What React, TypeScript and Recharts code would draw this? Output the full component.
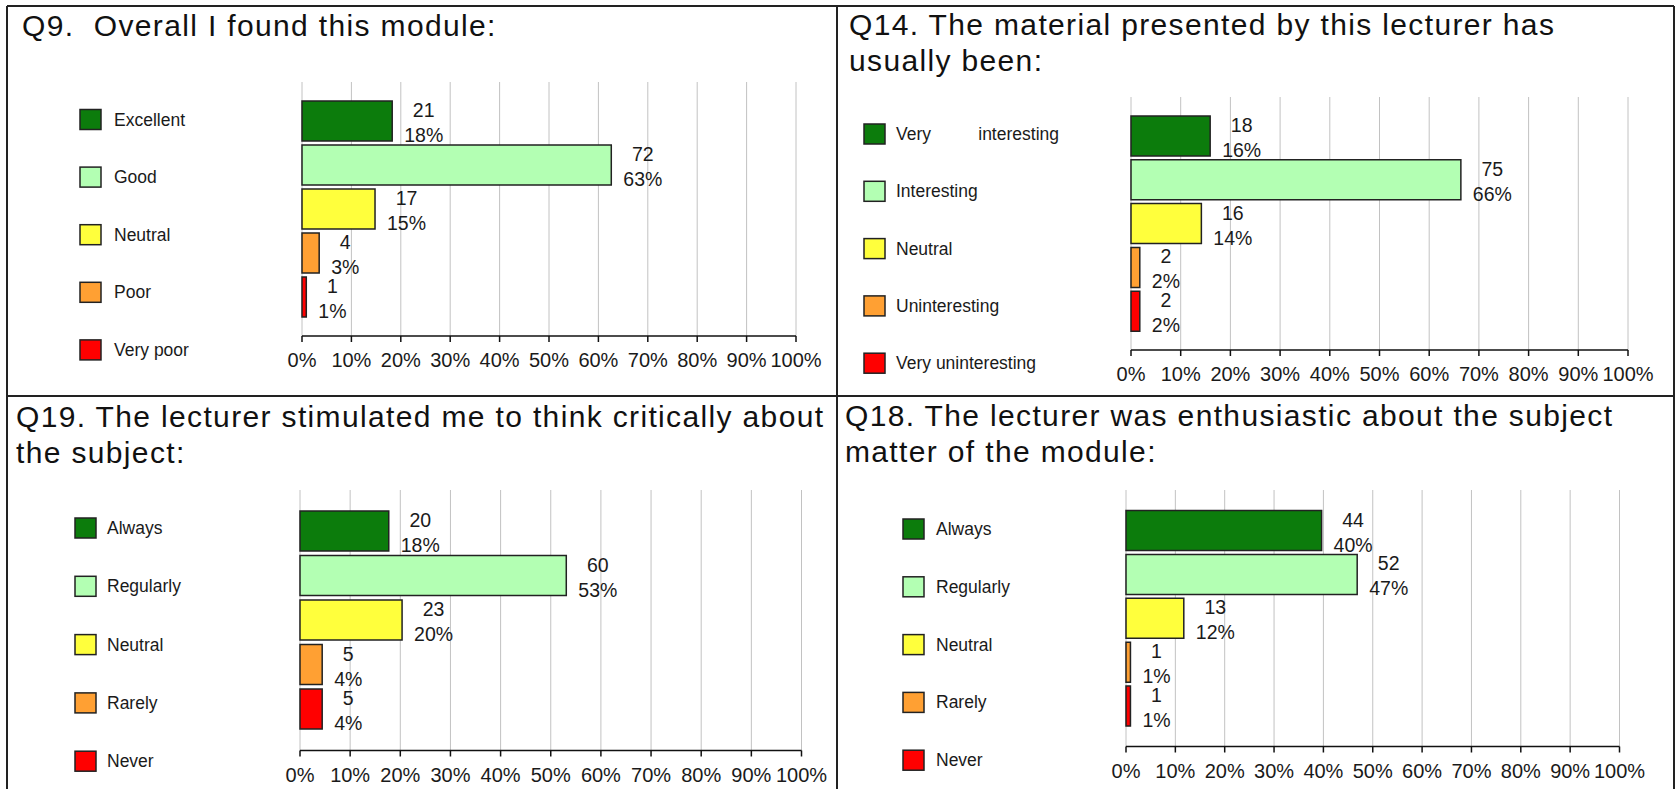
import React from "react";
import { BarChart, Bar, XAxis, YAxis, CartesianGrid, Cell, LabelList } from "recharts";

const FONT = 'Arial, "Liberation Sans", Helvetica, sans-serif';

// ---- data ----
const q9Title = ["Q9.  Overall I found this module:"];
const q9Labels = ["Excellent", "Good", "Neutral", "Poor", "Very poor"];
const q9Counts = [21, 72, 17, 4, 1];
const q9Pct = [18, 63, 15, 3, 1];

const q14Title = ["Q14. The material presented by this lecturer has", "usually been:"];
const q14Labels = ["Very interesting", "Interesting", "Neutral", "Uninteresting", "Very uninteresting"];
const q14Counts = [18, 75, 16, 2, 2];
const q14Pct = [16, 66, 14, 2, 2];

const q19Title = ["Q19. The lecturer stimulated me to think critically about", "the subject:"];
const q19Labels = ["Always", "Regularly", "Neutral", "Rarely", "Never"];
const q19Counts = [20, 60, 23, 5, 5];
const q19Pct = [18, 53, 20, 4, 4];

const q18Title = ["Q18. The lecturer was enthusiastic about the subject", "matter of the module:"];
const q18Labels = ["Always", "Regularly", "Neutral", "Rarely", "Never"];
const q18Counts = [44, 52, 13, 1, 1];
const q18Pct = [40, 47, 12, 1, 1];

const xTicks = [0, 10, 20, 30, 40, 50, 60, 70, 80, 90, 100];
const barColors = ["#0c7c0c", "#b3ffb3", "#ffff3c", "#ffa033", "#ff0000"];

const LABEL_FS = 19.5;

interface PanelCfg {
  title: string[];
  labels: string[];
  counts: number[];
  pct: number[];
  titleX: number;
  titleY: number;
  boxX: number;
  textX: number;
  legendY: number;
  legendStep: number;
  spread?: number;
  plot: { x0: number; x1: number; y0: number; y1: number };
  pad: number;
}

const panels: PanelCfg[] = [
  {
    title: q9Title, labels: q9Labels, counts: q9Counts, pct: q9Pct,
    titleX: 22, titleY: 36, boxX: 80, textX: 114, legendY: 119.5, legendStep: 57.6,
    plot: { x0: 301.5, x1: 795.5, y0: 82, y1: 336 }, pad: 17,
  },
  {
    title: q14Title, labels: q14Labels, counts: q14Counts, pct: q14Pct,
    titleX: 849, titleY: 35, boxX: 864, textX: 896, legendY: 134, legendStep: 57.3, spread: 163,
    plot: { x0: 1131, x1: 1628, y0: 97, y1: 350 }, pad: 17,
  },
  {
    title: q19Title, labels: q19Labels, counts: q19Counts, pct: q19Pct,
    titleX: 16, titleY: 426.5, boxX: 75, textX: 107, legendY: 528, legendStep: 58.3,
    plot: { x0: 300, x1: 801.5, y0: 489.5, y1: 750 }, pad: 19,
  },
  {
    title: q18Title, labels: q18Labels, counts: q18Counts, pct: q18Pct,
    titleX: 845, titleY: 425.5, boxX: 903, textX: 936, legendY: 529, legendStep: 57.8,
    plot: { x0: 1126, x1: 1619.5, y0: 490, y1: 746.5 }, pad: 18.5,
  },
];

function makeLabel(counts: number[], pct: number[]) {
  return (props: any) => {
    const vb = props.viewBox ?? props;
    const { x, y, width, height } = vb;
    const i = props.index;
    if (i == null) return null;
    const end = x + width;
    const cy = y + height / 2;
    const pctW = (String(pct[i]).length * 0.556 + 0.889) * LABEL_FS;
    const left = end + 12;
    const common = { fontSize: LABEL_FS, fill: "#1a1a1a", fontFamily: FONT };
    return (
      <g>
        <text x={left + pctW / 2} y={cy - 4} textAnchor="middle" {...common}>{counts[i]}</text>
        <text x={left} y={cy + 21} textAnchor="start" {...common}>{`${pct[i]}%`}</text>
      </g>
    );
  };
}

function PanelChart({ p }: { p: PanelCfg }) {
  const total = p.counts.reduce((a, b) => a + b, 0);
  const data = p.labels.map((name, i) => ({ name, share: (p.counts[i] / total) * 100 }));
  const m = { top: 10, right: 70, bottom: 6, left: 40 };
  const axisH = 44;
  const w = p.plot.x1 - p.plot.x0 + m.left + m.right;
  const h = p.plot.y1 - p.plot.y0 + m.top + m.bottom + axisH;
  return (
    <div style={{ position: "absolute", left: p.plot.x0 - m.left, top: p.plot.y0 - m.top }}>
      <BarChart layout="vertical" width={w} height={h} data={data} margin={m}>
        <CartesianGrid horizontal={false} stroke="#c2c2c2" strokeWidth={1} />
        <XAxis
          type="number"
          domain={[0, 100]}
          ticks={xTicks}
          interval={0}
          height={axisH}
          tickFormatter={(v) => `${v}%`}
          tick={{ fontSize: 20, fill: "#1a1a1a", fontFamily: FONT }}
          tickSize={6}
          tickMargin={11}
          tickLine={{ stroke: "#111", strokeWidth: 1.5 }}
          axisLine={{ stroke: "#111", strokeWidth: 1.5 }}
        />
        <YAxis
          type="category"
          dataKey="name"
          width={0}
          tick={false}
          tickLine={false}
          axisLine={{ stroke: "#111", strokeWidth: 1.5 }}
          padding={{ top: p.pad, bottom: p.pad }}
        />
        <Bar dataKey="share" barSize={40} stroke="#222" strokeWidth={1.5} isAnimationActive={false}>
          {data.map((d, i) => (
            <Cell key={d.name} fill={barColors[i]} />
          ))}
          <LabelList dataKey="share" content={makeLabel(p.counts, p.pct)} />
        </Bar>
      </BarChart>
    </div>
  );
}

function Overlay() {
  return (
    <svg width={1677} height={789} style={{ position: "absolute", left: 0, top: 0, pointerEvents: "none" }}>
      <g stroke="#222" strokeWidth={2}>
        <line x1={7} y1={6} x2={1674} y2={6} />
        <line x1={7} y1={6} x2={7} y2={789} />
        <line x1={1674} y1={6} x2={1674} y2={789} />
        <line x1={837} y1={6} x2={837} y2={789} />
        <line x1={7} y1={396} x2={1674} y2={396} />
      </g>
      {panels.map((p, k) => (
        <g key={k}>
          {p.title.map((line, j) => (
            <text
              key={j}
              x={p.titleX}
              y={p.titleY + j * 36}
              fontSize={30}
              letterSpacing={1.35}
              fill="#111"
              fontFamily={FONT}
              style={{ whiteSpace: "pre" }}
            >
              {line}
            </text>
          ))}
          {p.labels.map((lab, i) => {
            const cy = p.legendY + i * p.legendStep;
            const words = lab.split(" ");
            return (
              <g key={lab}>
                <rect x={p.boxX} y={cy - 10} width={21} height={20} fill={barColors[i]} stroke="#222" strokeWidth={1.5} />
                {p.spread && i === 0 && words.length > 1 ? (
                  <>
                    <text x={p.textX} y={cy + 6} fontSize={17.5} fill="#1a1a1a" fontFamily={FONT}>{words[0]}</text>
                    <text x={p.textX + p.spread} y={cy + 6} textAnchor="end" fontSize={17.5} fill="#1a1a1a" fontFamily={FONT}>
                      {words.slice(1).join(" ")}
                    </text>
                  </>
                ) : (
                  <text x={p.textX} y={cy + 6} fontSize={17.5} fill="#1a1a1a" fontFamily={FONT}>{lab}</text>
                )}
              </g>
            );
          })}
        </g>
      ))}
    </svg>
  );
}

export default function App() {
  return (
    <div style={{ position: "absolute", left: 0, top: 0, width: 1677, height: 789, background: "#fff", overflow: "hidden", fontFamily: FONT }}>
      {panels.map((p, k) => (
        <PanelChart key={k} p={p} />
      ))}
      <Overlay />
    </div>
  );
}
